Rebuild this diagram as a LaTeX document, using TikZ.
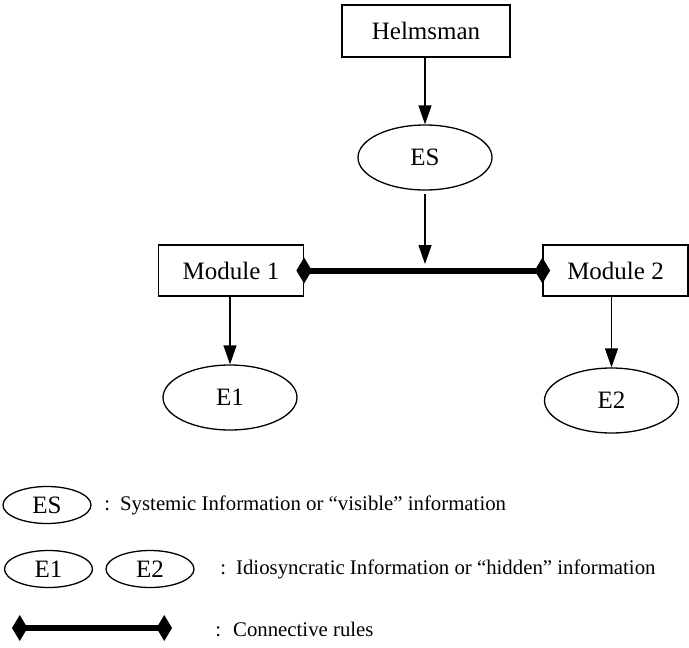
\documentclass[tikz,border=0pt]{standalone}
\usepackage{fontspec}
\setmainfont{Liberation Serif}
\usetikzlibrary{shapes.geometric, arrows.meta}

\tikzset{
    base/.style={
        font=\fontsize{12.5}{14}\selectfont,
        align=center,
        line width=0.65pt
    },
    block/.style={
        base,
        rectangle,
        draw,
        minimum width=72.5pt,
        minimum height=25.5pt,
        inner sep=1pt
    },
    info/.style={
        base,
        ellipse,
        draw,
        minimum width=67pt,
        minimum height=32.5pt,
        inner sep=1pt
    },
    key/.style={
        base,
        ellipse,
        draw,
        minimum width=44pt,
        minimum height=18.5pt,
        inner sep=0pt
    },
    flow/.style={
        -{Triangle[length=9.5pt, width=6.5pt]},
        line width=0.65pt
    },
    rule/.style={
        {Diamond[length=7.75pt, width=13pt]}-{Diamond[length=7.75pt, width=13pt]},
        line width=3pt
    },
    note/.style={
        font=\fontsize{10.4}{12}\selectfont,
        anchor=west,
        inner sep=0pt
    }
}

\begin{document}
\begin{tikzpicture}[x=0.5pt, y=-0.5pt]
    \useasboundingbox (0,0) rectangle (689,647);

    % Helmsman and systemic information
    \node[block, minimum width=84pt, minimum height=26pt] (helm) at (426,31) {Helmsman};
    \node[info] (es) at (425,157.5) {ES};
    \draw[flow] (es.north |- helm.south) -- (es.north);

    % Modules and connective rules
    \node[block] (mod1) at (231,270.5) {Module 1};
    \node[block] (mod2) at (615.5,270.5) {Module 2};
    \draw[rule, shorten <=-3.9pt, shorten >=-3.9pt] (mod1.east) -- (mod2.west);
    \coordinate (drop) at (425,264);
    \draw[flow, shorten <=1.5pt] (es) -- (drop);

    % Hidden information
    \node[info] (e1) at (230,397.5) {E1};
    \node[info] (e2) at (611.5,400.5) {E2};
    \draw[flow] (e1.north |- mod1.south) -- (e1.north);
    \draw[flow] (e2.north |- mod2.south) -- (e2.north);

    % Legend
    \node[key] (keyES) at (47,505) {ES};
    \node[note] (noteES) at (104,505) {:\hspace{5pt}Systemic Information or “visible” information};

    \node[key] (keyE1) at (48.5,569) {E1};
    \node[key] (keyE2) at (150,569) {E2};
    \node[note] (noteE) at (220,569) {:\hspace{5pt}Idiosyncratic Information or “hidden” information};

    \coordinate (keyL) at (12,628);
    \coordinate (keyR) at (172,628);
    \draw[rule] (keyL) -- (keyR);
    \node[note] (noteRule) at (215,629) {:\hspace{6pt}Connective rules};

\end{tikzpicture}
\end{document}
